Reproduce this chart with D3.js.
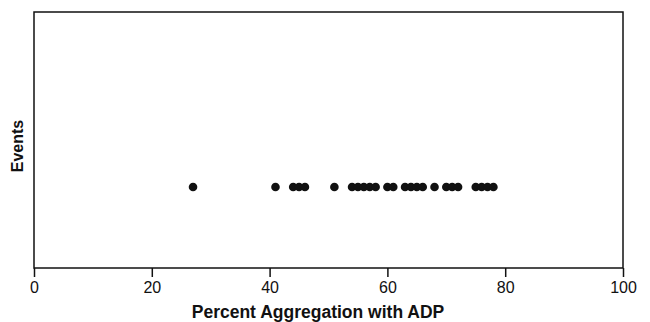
<!DOCTYPE html>
<html>
<head>
<meta charset="utf-8">
<script src="https://cdn.jsdelivr.net/npm/d3@7"></script>
<style>
  body { margin: 0; background: #fff; }
  svg { display: block; }
</style>
</head>
<body>
<svg id="chart" width="650" height="322"></svg>
<script>
// percent aggregation per event (one dot each)
const aggregation = [27, 41, 44, 45, 46, 51, 54, 55, 56, 57, 58, 60, 61,
  63, 64, 65, 66, 68, 70, 71, 72, 75, 76, 77, 78];
const xTicks = [0, 20, 40, 60, 80, 100];
const xTitle = 'Percent Aggregation with ADP';
const yTitle = 'Events';

const svg = d3.select('#chart');
const margin = { top: 12, right: 27, bottom: 54, left: 34 };
const width = 650 - margin.left - margin.right;
const height = 322 - margin.top - margin.bottom;

const x = d3.scaleLinear().domain([0, 100]).range([0, width]);

const g = svg.append('g')
  .attr('transform', `translate(${margin.left},${margin.top})`);

// frame
g.append('rect')
  .attr('width', width)
  .attr('height', height)
  .attr('fill', 'none')
  .attr('stroke', '#111')
  .attr('stroke-width', 1.5);

// x axis
const xAxis = g.append('g')
  .attr('transform', `translate(0,${height})`)
  .call(d3.axisBottom(x).tickValues(xTicks).tickSize(9).tickSizeOuter(0).tickPadding(5));
xAxis.select('.domain').remove();
xAxis.selectAll('line').attr('stroke', '#111').attr('stroke-width', 1.5);
xAxis.selectAll('text')
  .attr('font-family', 'Liberation Sans, Arial, sans-serif')
  .attr('font-size', 16)
  .attr('fill', '#111');

// dots in a single row
const rowY = 175;
g.selectAll('circle.dot')
  .data(aggregation)
  .join('circle')
  .attr('class', 'dot')
  .attr('cx', d => x(d))
  .attr('cy', rowY)
  .attr('r', 4.3)
  .attr('fill', '#111');

// titles
svg.append('text')
  .attr('x', 318)
  .attr('y', 318)
  .attr('text-anchor', 'middle')
  .attr('font-family', 'Liberation Sans, Arial, sans-serif')
  .attr('font-size', 17.5)
  .attr('font-weight', 'bold')
  .attr('fill', '#111')
  .text(xTitle);

svg.append('text')
  .attr('transform', 'translate(23,146) rotate(-90)')
  .attr('text-anchor', 'middle')
  .attr('font-family', 'Liberation Sans, Arial, sans-serif')
  .attr('font-size', 16)
  .attr('font-weight', 'bold')
  .attr('fill', '#111')
  .text(yTitle);
</script>
</body>
</html>
